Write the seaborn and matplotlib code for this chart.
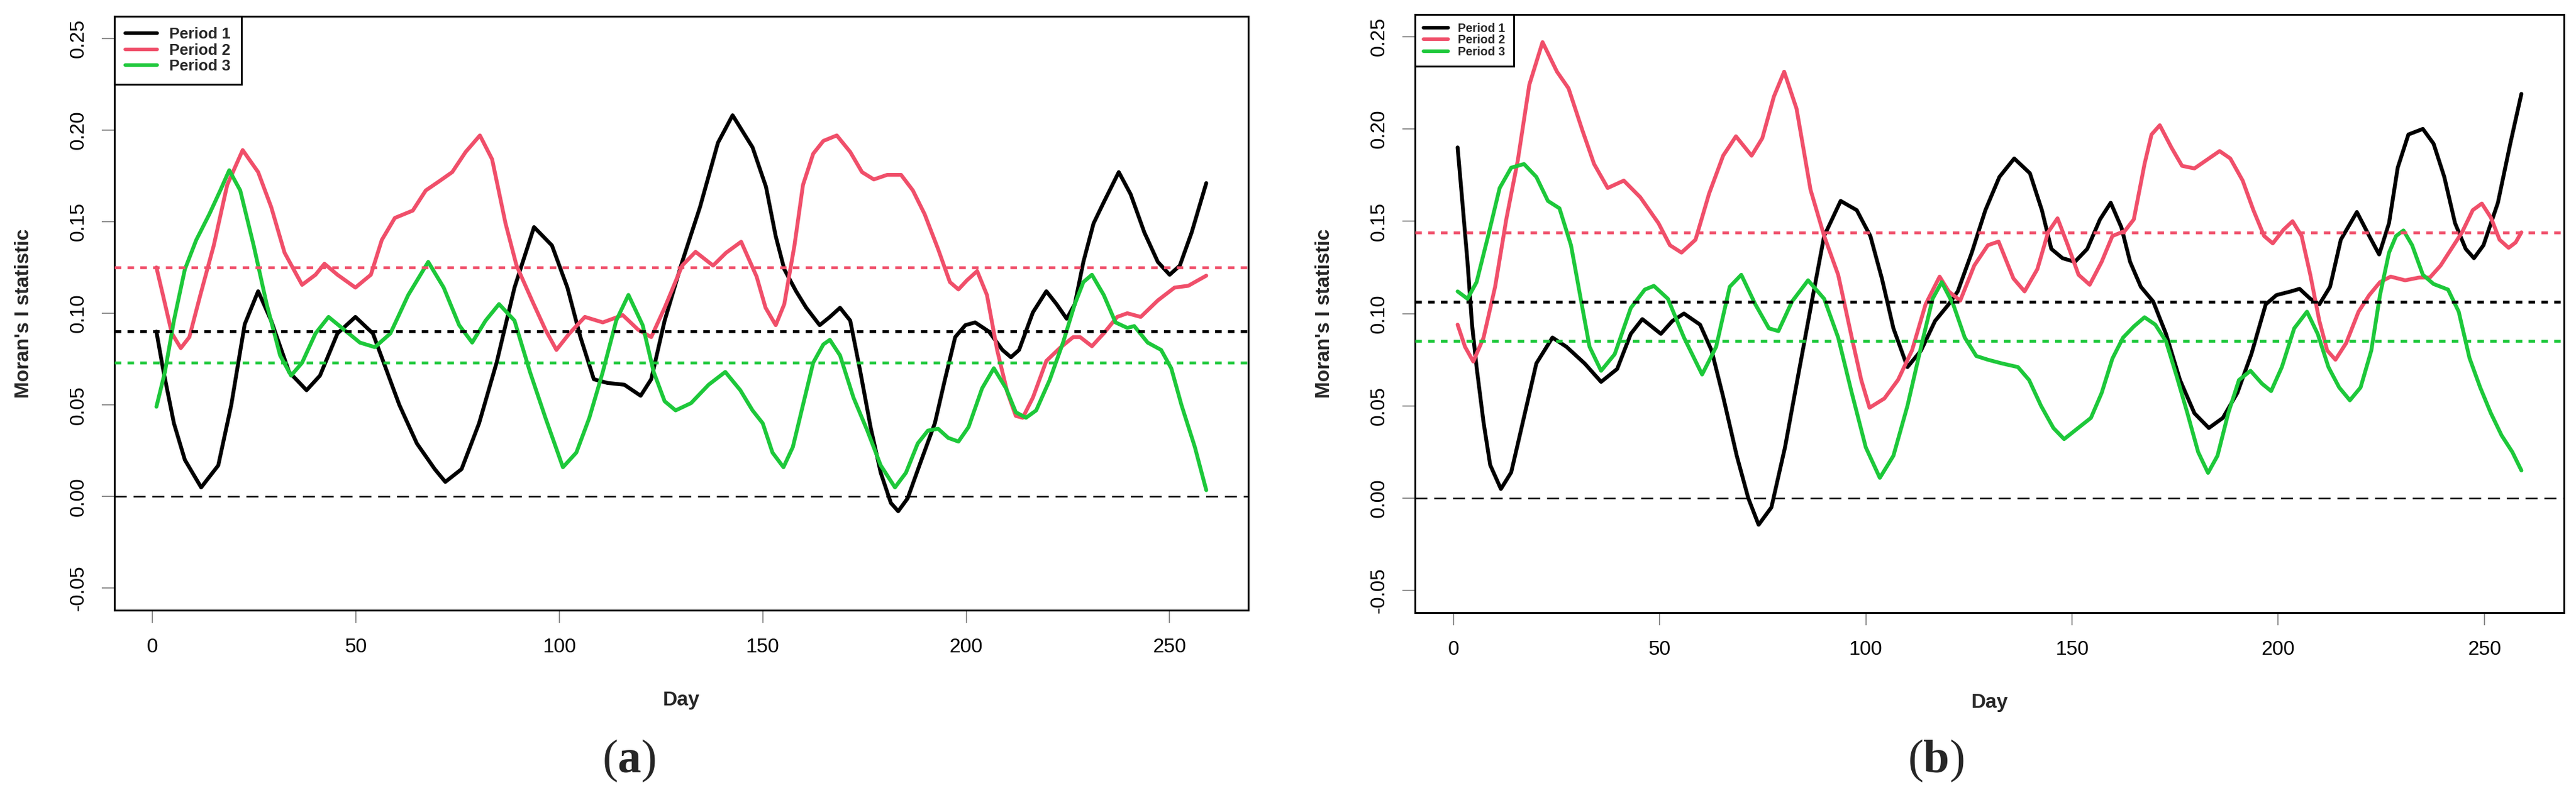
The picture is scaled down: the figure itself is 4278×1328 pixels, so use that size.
import numpy as np
import pandas as pd
import matplotlib
matplotlib.use('Agg')
import matplotlib.pyplot as plt
from matplotlib.lines import Line2D
import seaborn as sns

# values, (day, Moran's I) pairs
a_period1 = [(1, 0.090), (2.6, 0.070), (5.3, 0.040), (8, 0.020), (12, 0.005), (16.2, 0.017), (19.4, 0.050),
             (22.7, 0.094), (26, 0.112), (29.2, 0.096), (33.6, 0.068), (37.9, 0.058), (41.2, 0.066), (45.5, 0.089),
             (49.9, 0.098), (54.2, 0.089), (60.7, 0.050), (65, 0.029), (69.4, 0.015), (72, 0.008), (76, 0.015),
             (80.3, 0.040), (84.6, 0.073), (89, 0.114), (93.8, 0.147), (98.2, 0.137), (102, 0.114), (105.2, 0.087),
             (108.5, 0.064), (111.8, 0.062), (116, 0.061), (120, 0.055), (122.6, 0.064), (125.9, 0.096),
             (130.2, 0.128), (134.6, 0.158), (139, 0.193), (142.6, 0.208), (147.5, 0.1905), (150.8, 0.169),
             (153.2, 0.142), (155.3, 0.124), (158.2, 0.112), (160.7, 0.103), (164, 0.0935), (166.5, 0.098),
             (169, 0.103), (171.5, 0.096), (174, 0.068), (176.5, 0.038), (179, 0.013), (181.5, -0.0035),
             (183.3, -0.008), (185.6, -0.001), (189, 0.020), (192.3, 0.040), (194.8, 0.064), (197.3, 0.087),
             (199.8, 0.0935), (202.2, 0.095), (205.6, 0.090), (208.9, 0.080), (211, 0.076), (213, 0.080),
             (216.4, 0.1005), (219.7, 0.112), (222.2, 0.105), (224.7, 0.097), (226.7, 0.105), (228.8, 0.128),
             (231.3, 0.149), (233.8, 0.1605), (237.5, 0.177), (240.4, 0.165), (243.8, 0.144), (247.1, 0.128),
             (250, 0.121), (252.5, 0.126), (255.4, 0.144), (259, 0.171)]
a_period2 = [(1, 0.125), (2.6, 0.110), (4.8, 0.089), (7, 0.081), (9.1, 0.087), (11.8, 0.110), (15.1, 0.137),
             (18.4, 0.170), (22.2, 0.189), (26, 0.177), (29.2, 0.158), (32.5, 0.133), (36.8, 0.1155), (40.1, 0.121),
             (42.3, 0.127), (45.5, 0.121), (49.9, 0.114), (53.7, 0.121), (56.4, 0.140), (59.6, 0.152), (64, 0.156),
             (67.2, 0.167), (70.5, 0.172), (73.7, 0.177), (77, 0.188), (80.5, 0.197), (83.5, 0.184), (86.8, 0.149),
             (89.5, 0.126), (93.3, 0.107), (96.6, 0.091), (99.3, 0.080), (102.5, 0.089), (106.3, 0.098),
             (110.7, 0.095), (115.6, 0.099), (119.4, 0.091), (122.6, 0.087), (125.9, 0.103), (130.2, 0.126),
             (133.5, 0.1335), (137.8, 0.126), (141, 0.133), (144.7, 0.139), (148.5, 0.120), (150.7, 0.103),
             (153.2, 0.0935), (155.3, 0.105), (157.8, 0.137), (159.9, 0.170), (162.4, 0.187), (164.9, 0.194),
             (168.2, 0.197), (171.5, 0.188), (174.4, 0.177), (177.3, 0.173), (180.6, 0.1755), (184, 0.1755),
             (186.9, 0.167), (189.8, 0.154), (193.1, 0.135), (196, 0.117), (198.1, 0.113), (200.2, 0.118),
             (202.7, 0.123), (205.1, 0.110), (207.6, 0.080), (210.1, 0.057), (212.2, 0.044), (213.9, 0.043),
             (216.4, 0.054), (219.7, 0.074), (223, 0.081), (226.3, 0.087), (228, 0.087), (230.9, 0.082),
             (233.8, 0.089), (237.1, 0.098), (239.6, 0.100), (242.9, 0.098), (247.1, 0.107), (251.2, 0.114),
             (254.6, 0.115), (259, 0.1205)]
a_period3 = [(1, 0.049), (3.1, 0.068), (5.3, 0.096), (8, 0.124), (10.8, 0.140), (14, 0.154), (16.7, 0.167),
             (18.9, 0.178), (21.6, 0.167), (24.9, 0.137), (28.1, 0.105), (31.4, 0.077), (34.1, 0.066), (36.8, 0.073),
             (40.1, 0.089), (43.3, 0.098), (46.6, 0.092), (51, 0.084), (54.7, 0.0815), (58.5, 0.089), (62.9, 0.110),
             (67.8, 0.128), (71.6, 0.114), (75.4, 0.0935), (78.6, 0.084), (81.9, 0.096), (85.2, 0.105), (89, 0.096),
             (92.8, 0.068), (96.6, 0.043), (100.9, 0.016), (104.2, 0.024), (107.4, 0.043), (110.7, 0.068),
             (114, 0.096), (117, 0.110), (120.5, 0.0935), (123.2, 0.068), (125.9, 0.052), (128.6, 0.047),
             (132.4, 0.051), (136.7, 0.061), (140.8, 0.068), (144.5, 0.058), (147.5, 0.047), (150, 0.040),
             (152.4, 0.024), (155.1, 0.016), (157.4, 0.027), (159.9, 0.050), (162.4, 0.073), (164.9, 0.083),
             (166.5, 0.0855), (169, 0.077), (172.3, 0.054), (175.7, 0.036), (179, 0.017), (182.5, 0.005),
             (185.2, 0.013), (188.1, 0.029), (190.6, 0.036), (193.1, 0.037), (195.6, 0.032), (198.1, 0.030),
             (200.6, 0.038), (203.9, 0.059), (206.8, 0.070), (209.8, 0.059), (212.2, 0.046), (214.7, 0.043),
             (217.2, 0.047), (220.5, 0.0635), (223.8, 0.084), (226.7, 0.105), (228.8, 0.117), (230.9, 0.121),
             (233.8, 0.110), (236.7, 0.095), (239.6, 0.092), (241.3, 0.093), (244.6, 0.084), (247.9, 0.080),
             (250.4, 0.070), (252.9, 0.050), (256.2, 0.027), (259, 0.0035)]

b_period1 = [(1, 0.190), (1.9, 0.167), (3.4, 0.128), (4.5, 0.094), (5.6, 0.071), (7.3, 0.041), (8.9, 0.018),
             (11.5, 0.005), (14, 0.014), (16.8, 0.041), (20.1, 0.073), (24, 0.087), (27.4, 0.082), (31.8, 0.073),
             (35.8, 0.063), (39.7, 0.070), (43, 0.089), (45.8, 0.097), (50.3, 0.089), (53.1, 0.096), (55.9, 0.100),
             (59.8, 0.094), (62.6, 0.080), (65.4, 0.055), (68.7, 0.023), (71.5, 0.000), (74, -0.0144),
             (77.1, -0.005), (80.4, 0.0275), (83.8, 0.069), (87.2, 0.110), (89.9, 0.142), (93.9, 0.161),
             (97.8, 0.156), (101.1, 0.142), (103.9, 0.119), (106.7, 0.092), (110.1, 0.071), (113.4, 0.080),
             (116.8, 0.096), (120.1, 0.105), (122.3, 0.112), (125.7, 0.133), (129, 0.156), (132.4, 0.174),
             (136, 0.184), (139.8, 0.176), (142.7, 0.156), (145, 0.135), (147.7, 0.130), (150.7, 0.128),
             (153.7, 0.135), (156.8, 0.151), (159.4, 0.160), (162, 0.1466), (164.1, 0.128), (166.7, 0.1145),
             (169.7, 0.1065), (172.8, 0.089), (176.2, 0.064), (179.7, 0.046), (183.2, 0.038), (186.6, 0.0435),
             (190.1, 0.057), (193.5, 0.078), (197, 0.105), (199.6, 0.110), (203.1, 0.112), (205.2, 0.1134),
             (207.8, 0.108), (210, 0.105), (212.6, 0.1145), (215.2, 0.140), (219.1, 0.155), (222.1, 0.142),
             (224.5, 0.132), (226.9, 0.149), (229, 0.179), (231.6, 0.197), (235.1, 0.200), (237.7, 0.192),
             (240.3, 0.174), (242.9, 0.149), (245.5, 0.135), (247.5, 0.130), (249.8, 0.137), (253.3, 0.160),
             (256.3, 0.192), (259, 0.219)]
b_period2 = [(1, 0.094), (2.8, 0.082), (4.8, 0.074), (7.3, 0.087), (10.1, 0.1145), (12.8, 0.151), (15.6, 0.183),
             (18.4, 0.224), (21.6, 0.247), (25.1, 0.231), (27.9, 0.222), (31.3, 0.199), (34.1, 0.181), (37.4, 0.168),
             (41.3, 0.172), (45.3, 0.163), (49.7, 0.149), (52.5, 0.137), (55.3, 0.133), (58.7, 0.140), (62, 0.165),
             (65.4, 0.1855), (68.5, 0.196), (72.3, 0.1855), (74.9, 0.195), (77.7, 0.2175), (80.2, 0.231),
             (83.2, 0.211), (86.6, 0.167), (89.9, 0.142), (93.3, 0.121), (96.6, 0.087), (98.9, 0.064),
             (100.9, 0.049), (104.5, 0.054), (107.8, 0.064), (111.2, 0.080), (114.5, 0.105), (117.9, 0.120),
             (120.1, 0.112), (122.9, 0.107), (126.3, 0.126), (129.6, 0.137), (132.2, 0.139), (135.8, 0.119),
             (138.5, 0.112), (141.6, 0.124), (144.2, 0.144), (146.5, 0.1516), (149, 0.137), (151.6, 0.121),
             (154.3, 0.1156), (157.2, 0.128), (159.8, 0.142), (162.8, 0.1447), (165, 0.151), (167.6, 0.181),
             (169.3, 0.197), (171.3, 0.202), (174.1, 0.190), (176.7, 0.180), (179.7, 0.1786), (183.2, 0.184),
             (185.8, 0.188), (188.4, 0.184), (191.4, 0.172), (194, 0.156), (196.6, 0.142), (198.7, 0.138),
             (201.3, 0.1454), (203.5, 0.150), (205.7, 0.142), (207.8, 0.121), (210, 0.096), (211.9, 0.080),
             (213.9, 0.075), (216.5, 0.084), (219.5, 0.101), (222.1, 0.110), (224.7, 0.117), (227.3, 0.120),
             (230.8, 0.118), (234.2, 0.1195), (236.8, 0.1195), (239.4, 0.126), (242, 0.135), (244.6, 0.144),
             (247.2, 0.156), (249.4, 0.1596), (251.6, 0.152), (253.7, 0.140), (255.9, 0.1356), (257.6, 0.1385),
             (259, 0.144)]
b_period3 = [(1, 0.112), (3.4, 0.108), (5.6, 0.117), (8.4, 0.142), (11.2, 0.168), (14, 0.179), (17.1, 0.181),
             (20.1, 0.174), (22.9, 0.161), (25.7, 0.157), (28.5, 0.137), (30.7, 0.110), (33, 0.082), (35.8, 0.069),
             (39.1, 0.078), (43, 0.103), (46.4, 0.113), (48.6, 0.115), (52, 0.108), (55.9, 0.087), (60.3, 0.067),
             (63.7, 0.082), (67, 0.1145), (69.8, 0.121), (73.2, 0.105), (76.5, 0.092), (78.8, 0.0905),
             (82.1, 0.1065), (86, 0.118), (89.9, 0.108), (93.3, 0.087), (96.6, 0.057), (100, 0.0275),
             (103.4, 0.011), (106.7, 0.023), (110.1, 0.050), (113.4, 0.082), (116.2, 0.108), (118.4, 0.117),
             (121.2, 0.105), (124, 0.087), (126.8, 0.077), (129.6, 0.075), (133, 0.073), (136.9, 0.071),
             (139.6, 0.064), (142.5, 0.050), (145.5, 0.038), (148.1, 0.032), (150.7, 0.0366), (154.6, 0.0435),
             (157.2, 0.057), (159.8, 0.0756), (162.4, 0.087), (165, 0.093), (167.6, 0.098), (170.2, 0.094),
             (172.8, 0.085), (175.4, 0.066), (178, 0.046), (180.6, 0.025), (183, 0.0137), (185.3, 0.023),
             (187.9, 0.046), (190.5, 0.064), (193.3, 0.069), (196.1, 0.062), (198.3, 0.058), (200.9, 0.071),
             (203.9, 0.092), (207, 0.101), (209.6, 0.089), (212.2, 0.071), (214.8, 0.060), (217.4, 0.053),
             (220, 0.060), (222.6, 0.080), (224.7, 0.110), (226.9, 0.133), (228.6, 0.142), (230.4, 0.145),
             (232.5, 0.137), (235.1, 0.121), (237.7, 0.116), (241.2, 0.113), (243.8, 0.101), (246.4, 0.076),
             (249, 0.060), (251.6, 0.046), (254.2, 0.034), (256.8, 0.025), (259, 0.015)]

# mean of each period (dotted lines)
a_means = [0.090, 0.125, 0.073]
b_means = [0.1065, 0.144, 0.085]

periods = ['Period 1', 'Period 2', 'Period 3']
palette = {'Period 1': 'black', 'Period 2': '#F04F6A', 'Period 3': '#1DC83A'}

sns.set_theme(style='ticks')
plt.rcParams['font.family'] = ['Liberation Sans', 'DejaVu Sans']
plt.rcParams['mathtext.fontset'] = 'custom'
plt.rcParams['mathtext.rm'] = 'Liberation Serif'
plt.rcParams['mathtext.bf'] = 'Liberation Serif:bold'


def to_frame(series):
    rows = []
    for name, pts in zip(periods, series):
        for d, v in pts:
            rows.append((name, d, v))
    return pd.DataFrame(rows, columns=['Period', 'Day', 'Moran'])


W, H = 4278, 1328
fig = plt.figure(figsize=(W / 100, H / 100), dpi=100)
ax_a = fig.add_axes([190 / W, 1 - 1013 / H, 1883 / W, 986 / H])
ax_b = fig.add_axes([2350 / W, 1 - 1017 / H, 1908 / W, 993 / H])


def draw_panel(ax, df, means, leg_size, leg_pad, leg_spacing, px_w, px_h):
    sns.lineplot(data=df, x='Day', y='Moran', hue='Period', palette=palette, estimator=None,
                 sort=False, linewidth=4.6, legend=False, ax=ax, zorder=3)
    for line in ax.get_lines():
        line.set_solid_joinstyle('round')
        line.set_solid_capstyle('round')
    ax.axhline(0, color='black', lw=1.8, dashes=(8, 4.5), zorder=4)
    for name, m in zip(periods, means):
        ax.axhline(m, color=palette[name], lw=3.4, dashes=(2.3, 2.2), zorder=4)

    ax.set_xlim(-9.32, 269.32)
    ax.set_ylim(-0.062, 0.262)
    ax.set_xticks(range(0, 251, 50))
    ax.set_yticks(np.round(np.arange(-0.05, 0.26, 0.05), 2))
    ax.yaxis.set_major_formatter(plt.FuncFormatter(lambda v, _: f'{v:.2f}'))
    ax.tick_params(direction='out', length=15, width=1.4, color='#8c8c8c', labelsize=24,
                   labelcolor='black')
    ax.tick_params(axis='x', pad=18)
    ax.tick_params(axis='y', pad=17, labelrotation=90)
    for lab in ax.get_yticklabels():
        lab.set_va('center')

    for s in ax.spines.values():
        s.set_visible(True)
        s.set_color('black')
        s.set_linewidth(2.2)

    ax.set_xlabel('Day', fontsize=24, fontweight='bold')
    ax.set_ylabel("Moran's I statistic", fontsize=24, fontweight='bold')
    ax.xaxis.label.set_va('center')
    ax.yaxis.label.set_va('center')
    ax.xaxis.set_label_coords(0.5, -150 / px_h)
    ax.yaxis.set_label_coords(-151 / px_w, 0.5)

    handles = [Line2D([], [], color=palette[p], lw=4.2) for p in periods]
    leg = ax.legend(handles, periods, loc='upper left', borderaxespad=0, frameon=True,
                    fancybox=False, edgecolor='black', framealpha=1,
                    prop={'weight': 'bold', 'size': leg_size}, handlelength=2.06,
                    handletextpad=0.8, labelspacing=leg_spacing, borderpad=leg_pad)
    leg.get_frame().set_linewidth(2.2)
    leg.set_zorder(6)


draw_panel(ax_a, to_frame([a_period1, a_period2, a_period3]), a_means, 18.5, 0.7, 0.1, 1883, 986)
draw_panel(ax_b, to_frame([b_period1, b_period2, b_period3]), b_means, 14.4, 0.7, 0.02, 1908, 993)

fig.text(1045 / W, 1 - 1263 / H, r'($\mathbf{a}$)', ha='center', va='center', fontsize=56,
         family='Liberation Serif')
fig.text(3215 / W, 1 - 1263 / H, r'($\mathbf{b}$)', ha='center', va='center', fontsize=56,
         family='Liberation Serif')

fig.savefig('out.png', dpi=100)
